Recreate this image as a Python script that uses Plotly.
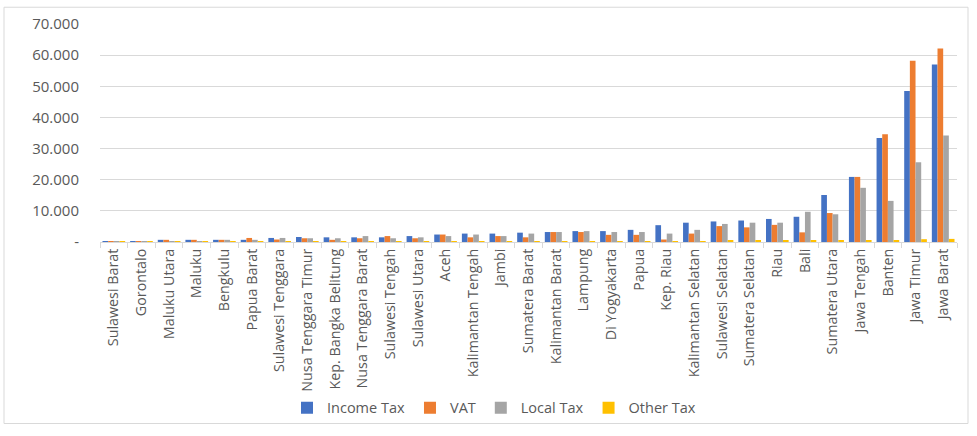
import plotly.graph_objects as go

provinces = ["Sulawesi Barat", "Gorontalo", "Maluku Utara", "Maluku", "Bengkulu", "Papua Barat",
             "Sulawesi Tenggara", "Nusa Tenggara Timur", "Kep. Bangka Belitung", "Nusa Tenggara Barat",
             "Sulawesi Tengah", "Sulawesi Utara", "Aceh", "Kalimantan Tengah", "Jambi", "Sumatera Barat",
             "Kalimantan Barat", "Lampung", "Di Yogyakarta", "Papua", "Kep. Riau", "Kalimantan Selatan",
             "Sulawesi Selatan", "Sumatera Selatan", "Riau", "Bali", "Sumatera Utara", "Jawa Tengah",
             "Banten", "Jawa Timur", "Jawa Barat"]

income_tax = [300, 300, 700, 700, 700, 700, 1300, 1600, 1500, 1500, 1500, 1900, 2400, 2700, 2700, 3000,
              3200, 3500, 3500, 3900, 5400, 6200, 6600, 6900, 7400, 8100, 15100, 20900, 33400, 48500, 57000]
vat = [250, 250, 700, 700, 700, 1300, 800, 1200, 700, 1200, 1900, 1200, 2400, 1500, 1900, 1500,
       3200, 3200, 2300, 2300, 800, 2700, 5100, 4700, 5500, 3100, 9300, 20900, 34600, 58200, 62100]
local_tax = [250, 250, 300, 300, 700, 700, 1300, 1200, 1200, 1900, 1200, 1500, 1900, 2400, 1900, 2700,
             3200, 3500, 3200, 3200, 2700, 3900, 5800, 6200, 6200, 9700, 8900, 17400, 13200, 25600, 34200]
other_tax = [200, 200, 200, 200, 200, 200, 250, 250, 250, 300, 300, 300, 300, 300, 300, 300,
             300, 300, 300, 300, 300, 300, 350, 350, 350, 350, 350, 400, 450, 900, 1000]

series_names = ["Income Tax", "VAT", "Local Tax", "Other Tax"]
series_colors = ["#4472C4", "#ED7D31", "#A5A5A5", "#FFC000"]
series_values = [income_tax, vat, local_tax, other_tax]

y_tickvals = [0, 10000, 20000, 30000, 40000, 50000, 60000, 70000]
y_ticktext = ["-", "10.000", "20.000", "30.000", "40.000", "50.000", "60.000", "70.000"]

fig = go.Figure()
for name, color, vals in zip(series_names, series_colors, series_values):
    fig.add_trace(go.Bar(name=name, x=provinces, y=vals, marker=dict(color=color, line=dict(width=0))))

W, H = 977, 436
L, R, T, B = 100, 20, 24, 191
pw, ph = W - L - R, H - T - B

def px(x):
    return (x - L) / pw

def py(y):
    return (H - B - y) / ph

fig.update_layout(
    width=W, height=H,
    margin=dict(l=L, r=R, t=T, b=B, pad=0),
    paper_bgcolor="white", plot_bgcolor="white",
    barmode="group", bargap=0.18, bargroupgap=0,
    font=dict(family="Open Sans", color="#595959"),
    showlegend=True,
    legend=dict(orientation="h", x=px(494), xanchor="center", y=py(413), yanchor="middle",
                font=dict(size=14.5, color="#595959"), itemwidth=30, traceorder="normal",
                bgcolor="rgba(0,0,0,0)"),
    shapes=[dict(type="rect", xref="paper", yref="paper",
                 x0=px(4), x1=px(968), y0=py(429), y1=py(7),
                 line=dict(color="#D9D9D9", width=1), fillcolor="rgba(0,0,0,0)", layer="below")],
)
fig.update_xaxes(
    type="category", tickangle=-90, tickfont=dict(size=14.3, color="#595959"),
    showline=True, linecolor="#D9D9D9", linewidth=1,
    ticks="outside", tickson="boundaries", ticklen=5, tickcolor="#D9D9D9",
    showgrid=False,
)
fig.update_yaxes(
    range=[0, 70000], tickvals=y_tickvals, ticktext=y_ticktext,
    tickfont=dict(size=15, color="#595959"), showgrid=True, gridcolor="#D9D9D9", gridwidth=1,
    zeroline=False, showline=False, ticks="", ticklabelstandoff=20,
)

fig.write_html("out.html")
